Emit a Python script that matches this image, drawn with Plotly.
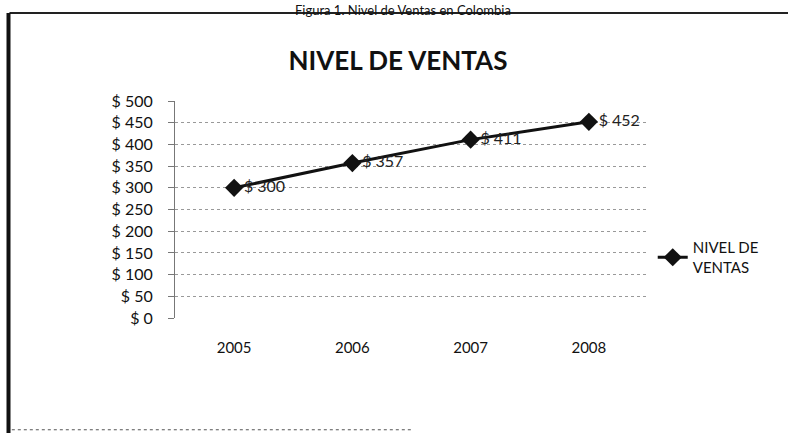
import plotly.graph_objects as go

years = ["2005", "2006", "2007", "2008"]
ventas = [300, 357, 411, 452]
y_ticks = [0, 50, 100, 150, 200, 250, 300, 350, 400, 450, 500]
y_tick_labels = ["$ " + str(v) for v in y_ticks]
labels = ["$ " + str(v) for v in ventas]

FONT = "Lato, Open Sans, sans-serif"

fig = go.Figure()
fig.add_trace(go.Scatter(
    x=years, y=ventas, mode="lines+markers+text",
    name="NIVEL DE<br>VENTAS",
    line=dict(color="#111111", width=3),
    marker=dict(symbol="diamond", size=14, color="#111111"),
    text=labels, textposition="middle right",
    textfont=dict(family=FONT, size=16, color="#222222"),
))

fig.update_layout(
    width=788, height=433,
    margin=dict(l=175, r=140, t=101, b=115),
    paper_bgcolor="white", plot_bgcolor="white",
    title=dict(text="<b>NIVEL DE VENTAS</b>", x=0.505, xanchor="center",
               y=0.86, yanchor="middle",
               font=dict(family=FONT, size=26, color="#111111")),
    font=dict(family=FONT, color="#111111"),
    legend=dict(x=1.01, y=0.28, xanchor="left", yanchor="middle",
                font=dict(family=FONT, size=15, color="#111111"),
                bgcolor="rgba(0,0,0,0)"),
    showlegend=True,
)
fig.update_xaxes(type="category", range=[-0.5, 3.5], showgrid=False,
                 showline=False, zeroline=False,
                 ticks="outside", ticklen=16, tickcolor="rgba(0,0,0,0)",
                 tickfont=dict(family=FONT, size=15, color="#111111"))
fig.update_yaxes(range=[0, 500], tickvals=y_ticks, ticktext=y_tick_labels,
                 showgrid=True, gridcolor="#999999", griddash="dot", gridwidth=1,
                 showline=True, linecolor="#777777", linewidth=1,
                 zeroline=False,
                 ticks="outside", ticklen=6, tickcolor="#777777",
                 ticklabelstandoff=12,
                 tickfont=dict(family=FONT, size=16, color="#111111"))

# outer frame of the scanned figure
fig.add_shape(type="line", xref="paper", yref="paper",
              x0=-0.35, x1=1.30, y0=1.405, y1=1.405,
              line=dict(color="#222222", width=2))
fig.add_shape(type="line", xref="paper", yref="paper",
              x0=-0.352, x1=-0.352, y0=-0.53, y1=1.405,
              line=dict(color="#111111", width=4))
fig.add_shape(type="line", xref="paper", yref="paper",
              x0=-0.345, x1=0.5, y0=-0.515, y1=-0.515,
              line=dict(color="#555555", width=1, dash="dot"))

fig.add_annotation(text="Figura 1. Nivel de Ventas en Colombia",
                   xref="paper", yref="paper", x=0.482, y=1.465,
                   xanchor="center", yanchor="top", showarrow=False,
                   font=dict(family=FONT, size=13, color="#111111"))

fig.write_html("out.html", config={"displayModeBar": False},
               post_script="document.body.style.margin='0';")
